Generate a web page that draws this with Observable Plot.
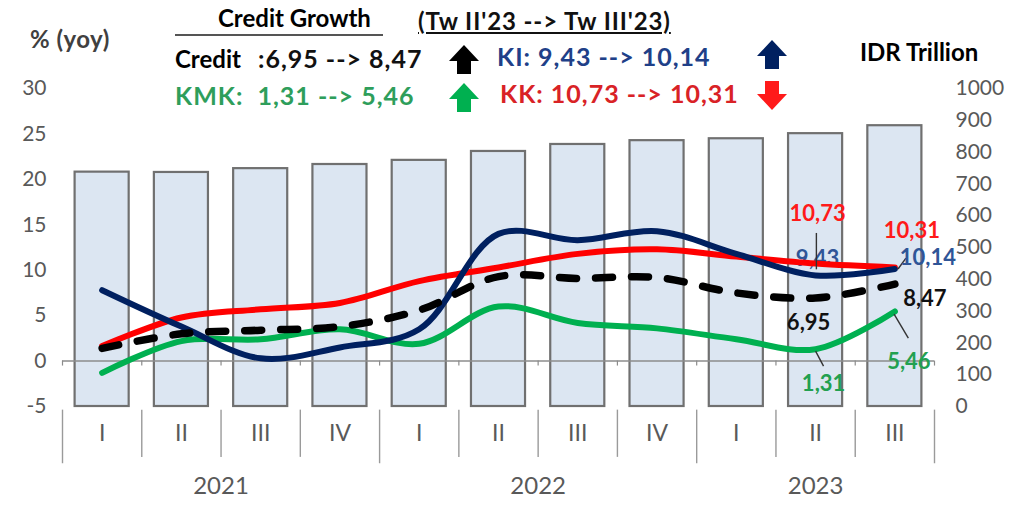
<!DOCTYPE html>
<html>
<head>
<meta charset="utf-8">
<script src="https://cdn.jsdelivr.net/npm/d3@7"></script>
<script src="https://cdn.jsdelivr.net/npm/@observablehq/plot@0.6"></script>
<style>
  html, body { margin: 0; padding: 0; background: #fff; }
  #wrap { position: relative; width: 1011px; height: 508px; overflow: hidden; font-family: Lato, "Open Sans", sans-serif; }
  #wrap svg.plot { position: absolute; left: 0; top: 0; }
  .t { position: absolute; white-space: pre; line-height: 1; font-weight: bold; }
  .arrow { position: absolute; }
</style>
</head>
<body>
<div id="wrap"></div>
<script>
// ---- data ----
const quarters = ["I","II","III","IV","I","II","III","IV","I","II","III"];
const years = ["2021","2021","2021","2021","2022","2022","2022","2022","2023","2023","2023"];
const outstanding = [737, 736, 748, 761, 774, 802, 824, 836, 842, 858, 883]; // IDR Trillion (right axis)
const credit = [1.4, 3.0, 3.4, 3.8, 5.6, 9.3, 9.1, 9.2, 7.5, 6.95, 8.47];
const ki     = [7.8, 3.8, 0.3, 1.5, 3.5, 14.0, 13.3, 14.3, 11.8, 9.43, 10.14];
const kk     = [1.65, 4.8, 5.7, 6.4, 8.8, 10.3, 11.8, 12.3, 11.5, 10.73, 10.31];
const kmk    = [-1.3, 2.2, 2.4, 3.5, 1.9, 6.0, 4.2, 3.6, 2.4, 1.31, 5.46];
const leftTicks = [-5, 0, 5, 10, 15, 20, 25, 30];
const rightTicks = [0, 100, 200, 300, 400, 500, 600, 700, 800, 900, 1000];

// ---- helpers ----
const L0 = -5, L1 = 30, R1 = 1000;
const toLeft = v => L0 + v * (L1 - L0) / R1;   // right-axis value -> left-axis units
const n = quarters.length;
const idx = d3.range(n);

const bars = idx.map(i => ({i, v: outstanding[i]}));
const mk = (arr, name) => idx.map(i => ({i, v: arr[i], s: name}));
const series = [
  {name: "KMK", data: mk(kmk, "KMK"), color: "#00b050"},
  {name: "KK", data: mk(kk, "KK"), color: "#ff0000"},
  {name: "KI", data: mk(ki, "KI"), color: "#002060"},
];
const creditData = mk(credit, "Credit");

const yearGroups = d3.groups(idx, i => years[i]).map(([y, is]) => ({year: y, mid: d3.mean(is)}));
const yearBounds = [-0.5, ...yearGroups.map(g => d3.max(idx.filter(i => years[i] === g.year)) + 0.5)];
const quarterBounds = idx.slice(0, -1).map(i => i + 0.5).filter(b => !yearBounds.includes(b));

// data labels (last two quarters)
const labels = [
  {i: 9,  v: ki[9],      text: "9,43",  color: "#2f5597", dx: 2,  dy: -16, behind: true},
  {i: 9,  v: kk[9],      text: "10,73", color: "#ff1a1a", dx: 2,  dy: -50},
  {i: 10, v: kk[10],     text: "10,31", color: "#ff1a1a", dx: 17, dy: -36},
  {i: 10, v: ki[10],     text: "10,14", color: "#2f5597", dx: 33, dy: -11},
  {i: 9,  v: credit[9],  text: "6,95",  color: "#111111", dx: -7, dy: 25},
  {i: 10, v: credit[10], text: "8,47",  color: "#111111", dx: 30, dy: 15},
  {i: 9,  v: kmk[9],     text: "1,31",  color: "#22a050", dx: 8,  dy: 35},
  {i: 10, v: kmk[10],    text: "5,46",  color: "#22a050", dx: 14, dy: 50},
];
const leaders = [
  {x1: 9.01, y1: 14.1, x2: 9.01, y2: 10.1},
  {x1: 9.0,  y1: 1.1,  x2: 9.1,  y2: -0.55},
  {x1: 9.99, y1: 5.17, x2: 10.17, y2: 2.53},
  {x1: 10.04, y1: 10.13, x2: 10.14, y2: 11.34},
];
const labelMark = d => Plot.text([d], {x: "i", y: "v", text: "text", fill: "color", dx: d.dx, dy: d.dy,
  fontSize: 22, fontWeight: "bold"});

const chart = Plot.plot({
  width: 1011,
  height: 508,
  marginLeft: 62,
  marginRight: 77,
  marginTop: 88,
  marginBottom: 102,
  style: {fontFamily: "Lato, 'Open Sans', sans-serif", fontSize: "21px", color: "#595959", background: "transparent"},
  x: {type: "linear", domain: [-0.5, n - 0.5], axis: null},
  y: {domain: [L0, L1], axis: null},
  marks: [
    // bars (right axis)
    Plot.rectY(bars, {x1: d => d.i - 0.5, x2: d => d.i + 0.5, y1: L0, y2: d => toLeft(d.v),
      insetLeft: 12.6, insetRight: 12.6, fill: "#dce6f2", stroke: "#707070", strokeWidth: 2.2}),
    // zero line with small ticks
    Plot.ruleY([0], {stroke: "#8c8c8c", strokeWidth: 1.5}),
    Plot.ruleX([...quarterBounds, ...yearBounds], {y1: 0, y2: -0.55, stroke: "#8c8c8c", strokeWidth: 1.2}),
    // bottom category axis separators
    Plot.ruleX(quarterBounds, {y1: -5.4, y2: -10.6, stroke: "#9a9a9a", strokeWidth: 1.4}),
    Plot.ruleX(yearBounds, {y1: -5.4, y2: -11.3, stroke: "#9a9a9a", strokeWidth: 1.4}),
    // label partially hidden behind lines
    ...labels.filter(d => d.behind).map(labelMark),
    // lines
    ...series.map(s => Plot.line(s.data, {x: "i", y: "v", stroke: s.color, strokeWidth: 6, curve: "catmull-rom", strokeLinecap: "round"})),
    Plot.line(creditData, {x: "i", y: "v", stroke: "#000", strokeWidth: 7.5, curve: "catmull-rom",
      strokeDasharray: "17,19", strokeLinecap: "round"}),
    // leader lines
    Plot.link(leaders, {x1: "x1", y1: "y1", x2: "x2", y2: "y2", stroke: "#333", strokeWidth: 1.4}),
    // data labels
    ...labels.filter(d => !d.behind).map(labelMark),
    // left axis
    Plot.axisY(leftTicks, {anchor: "left", tickSize: 0, tickPadding: 16, fontSize: 21, color: "#595959",
      tickFormat: d => String(d)}),
    // right axis
    Plot.axisY(rightTicks.map(toLeft), {anchor: "right", tickSize: 0, tickPadding: 21, fontSize: 21,
      tickFormat: d => String(Math.round((d - L0) * R1 / (L1 - L0)))}),
    // quarter labels
    Plot.text(idx, {x: d => d, text: d => quarters[d], frameAnchor: "bottom", dy: 34, fontSize: 23, fill: "#595959"}),
    // year labels
    Plot.text(yearGroups, {x: "mid", text: "year", frameAnchor: "bottom", dy: 87, fontSize: 24, fill: "#595959"}),
  ]
});
chart.classList.add("plot");
const wrap = document.getElementById("wrap");
wrap.appendChild(chart);

// ---- header annotations (HTML) ----
function txt(s, left, top, size, color, extra) {
  const d = document.createElement("div");
  d.className = "t";
  d.textContent = s;
  d.style.left = left + "px";
  d.style.top = top + "px";
  d.style.fontSize = size + "px";
  d.style.color = color;
  if (extra) Object.assign(d.style, extra);
  wrap.appendChild(d);
  return d;
}
function arrow(left, top, color, down) {
  const ns = "http://www.w3.org/2000/svg";
  const s = document.createElementNS(ns, "svg");
  s.setAttribute("class", "arrow");
  s.setAttribute("width", 30); s.setAttribute("height", 29);
  s.style.left = left + "px"; s.style.top = top + "px";
  const p = document.createElementNS(ns, "polygon");
  p.setAttribute("points", down ? "8,0 22,0 22,13 30,13 15,29 0,13 8,13" : "15,0 30,16 22,16 22,29 8,29 8,16 0,16");
  p.setAttribute("fill", color);
  s.appendChild(p);
  wrap.appendChild(s);
}
const sp = {letterSpacing: "1px"};
txt("% (yoy)", 30, 27, 24, "#404040", {letterSpacing: "0.5px"});
txt("Credit Growth", 218, 6, 24, "#000");
const line = document.createElement("div");
Object.assign(line.style, {position: "absolute", left: "175px", top: "34px", width: "208px", height: "2px", background: "#555"});
wrap.appendChild(line);
txt("(Tw II'23 --> Tw III'23)", 418, 9, 24, "#111", {textDecoration: "underline", letterSpacing: "0.9px"});
txt("Credit", 175, 47, 24, "#000");
txt(":6,95 --> 8,47", 258, 46, 25, "#111", sp);
txt("KMK:  1,31 --> 5,46", 175, 83, 25, "#2e9e5b", sp);
txt("KI: 9,43 --> 10,14", 497, 44, 25, "#203f88", sp);
txt("KK: 10,73 --> 10,31", 500, 81, 25, "#d92226", sp);
txt("IDR Trillion", 860, 40, 24, "#000");
arrow(449, 45, "#000", false);
arrow(449, 83, "#00b050", false);
arrow(757, 40, "#002060", false);
arrow(757, 81, "#ff1a1a", true);
</script>
</body>
</html>
